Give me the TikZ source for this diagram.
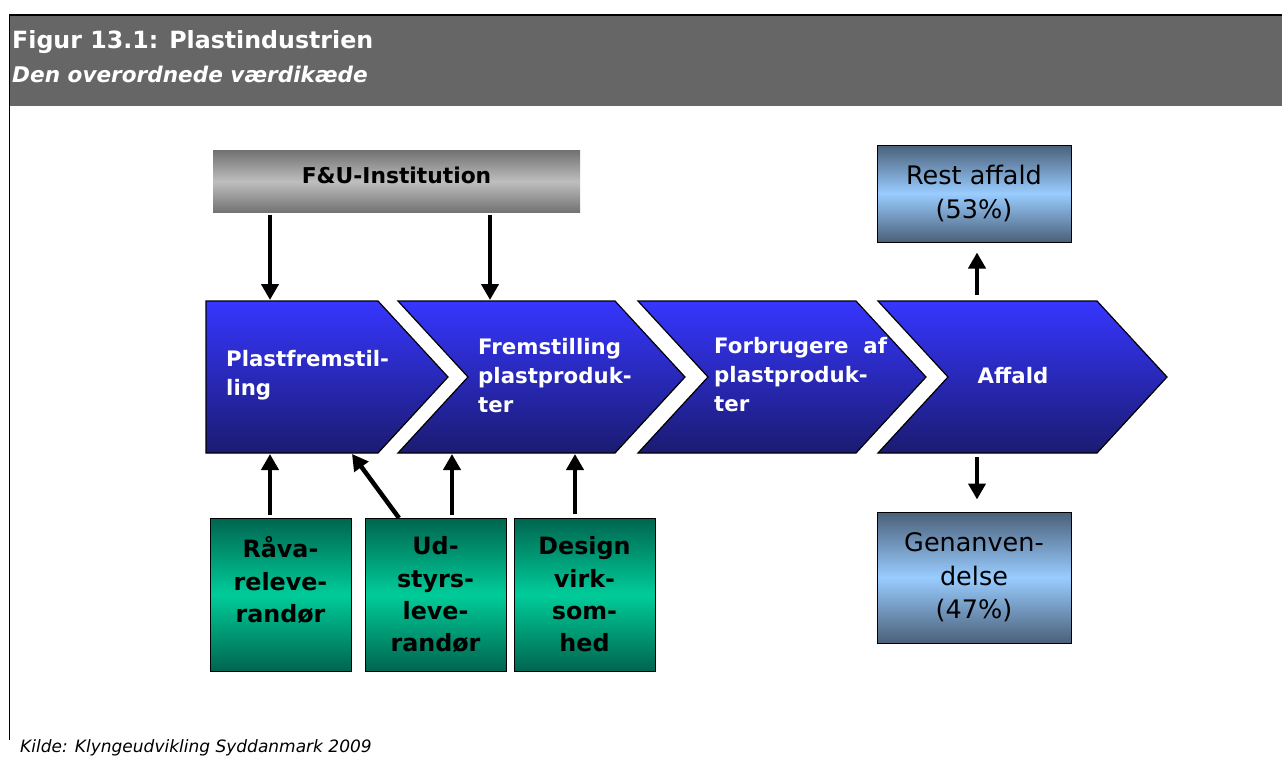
\documentclass[tikz,border=0pt]{standalone}
\usepackage{fontspec}
\setmainfont{DejaVu Sans}
\usetikzlibrary{arrows.meta,calc}

\definecolor{headgray}{HTML}{666666}
\definecolor{fudark}{HTML}{727272}
\definecolor{fulight}{HTML}{BEBEBE}
\definecolor{chevtop}{HTML}{3636FF}
\definecolor{chevbot}{HTML}{1B1B72}
\definecolor{grdark}{HTML}{00654F}
\definecolor{grlight}{HTML}{00CC99}
\definecolor{bldark}{HTML}{4A6079}
\definecolor{bllight}{HTML}{99CCFF}

\begin{document}
\begin{tikzpicture}[x=1pt,y=-1pt,
  arr/.style={line width=4.5pt,-{Triangle[width=17pt,length=16pt]}},
  chev/.style={draw=black,line width=1.2pt,top color=chevtop,bottom color=chevbot},
  chevtext/.style={text=white,font=\bfseries\fontsize{21.3}{29}\selectfont,
    align=left,anchor=north west,inner sep=0pt},
  fubox/.style={top color=fudark,bottom color=fudark,middle color=fulight,
    minimum width=367pt,minimum height=62pt,inner sep=0pt,
    font=\bfseries\fontsize{21.8}{26}\selectfont,text depth=13pt},
  greenbox/.style={draw=black,line width=1pt,top color=grdark,bottom color=grdark,
    middle color=grlight,minimum width=141pt,minimum height=153pt,inner sep=0pt},
  greentext/.style={font=\bfseries\fontsize{23.8}{32.3}\selectfont,align=center,
    anchor=north,inner sep=0pt},
  bluebox/.style={draw=black,line width=1pt,top color=bldark,bottom color=bldark,
    middle color=bllight,minimum width=194pt,inner sep=0pt,align=center,
    font=\fontsize{25.5}{33.5}\selectfont}]

\useasboundingbox (0,0) rectangle (1282,758);

% frame and header band
\fill[headgray] (10,16) rectangle (1282,106);
\draw[line width=2pt] (9,15) -- (1282,15);
\draw[line width=1.3pt] (9.5,15) -- (9.5,740);
\node[anchor=base west,inner sep=0pt,text=white,
  font=\bfseries\fontsize{23.7}{28}\selectfont] (title) at (12,48)
  {Figur 13.1: Plastindustrien};
\node[anchor=base west,inner sep=0pt,text=white,
  font=\bfseries\itshape\fontsize{21.6}{26}\selectfont] (subtitle) at (12,82)
  {Den overordnede værdikæde};

% research institution
\node[fubox] (fu) at (396.5,181.5) {F\&U-Institution};

% value chain chevrons
\shade[chev] (206,301) -- (378,301) -- (448,377) -- (378,453) -- (206,453) -- cycle;
\shade[chev] (398,301) -- (615,301) -- (685,377) -- (615,453) -- (398,453) -- (468,377) -- cycle;
\shade[chev] (638,301) -- (856,301) -- (926,377) -- (856,453) -- (638,453) -- (708,377) -- cycle;
\shade[chev] (878,301) -- (1097,301) -- (1167,377) -- (1097,453) -- (878,453) -- (948,377) -- cycle;

\node[chevtext] (c1) at (226,350) {Plastfremstil-\\ling};
\node[chevtext] (c2) at (478,338) {Fremstilling\\plastproduk-\\ter};
\node[chevtext] (c3) at (714,337) {Forbrugere~~af\\plastproduk-\\ter};
\node[chevtext,anchor=center] (c4) at (1013,376) {Affald};

\coordinate (c1top) at (270,300);
\coordinate (c2top) at (490,300);
\coordinate (c1bot) at (270,454);
\coordinate (c1botr) at (352,454);
\coordinate (c2bot) at (452,454);
\coordinate (c2botr) at (575,454);
\coordinate (c4top) at (977,301);
\coordinate (c4bot) at (977,453);

% suppliers
\node[greenbox] (g1) at (280.5,594.5) {};
\node[greenbox] (g2) at (435.5,594.5) {};
\node[greenbox] (g3) at (584.5,594.5) {};
\node[greentext] at ($(g1.north)+(0,19)$) {Råva-\\releve-\\randør};
\node[greentext] at ($(g2.north)+(0,19)$) {Ud-\\styrs-\\leve-\\randør};
\node[greentext] at ($(g3.north)+(0,19)$) {Design\\virk-\\som-\\hed};
\coordinate (g2diag) at (399,518);

% waste outcomes
\node[bluebox,minimum height=97pt] (ra) at (974,193.5) {Rest affald\\(53\%)};
\node[bluebox,minimum height=131pt] (gv) at (974,577.5) {Genanven-\\delse\\(47\%)};

% connectors
\draw[arr,shorten <=2pt] (fu.south -| c1top) -- (c1top);
\draw[arr,shorten <=2pt] (fu.south -| c2top) -- (c2top);
\draw[arr,shorten <=2.5pt] (g1.north -| c1bot) -- (c1bot);
\draw[arr] (g2diag) -- (c1botr);
\draw[arr,shorten <=2.5pt] (g2.north -| c2bot) -- (c2bot);
\draw[arr,shorten <=4pt] (g3.north -| c2botr) -- (c2botr);
\draw[arr,shorten <=6pt,shorten >=10pt] (c4top) -- (ra.south -| c4top);
\draw[arr,shorten <=4pt,shorten >=12pt] (c4bot) -- (gv.north -| c4bot);

% source line
\node[anchor=base west,inner sep=0pt,font=\itshape\fontsize{17}{20}\selectfont]
  (source) at (20,752) {Kilde: Klyngeudvikling Syddanmark 2009};
\end{tikzpicture}
\end{document}
